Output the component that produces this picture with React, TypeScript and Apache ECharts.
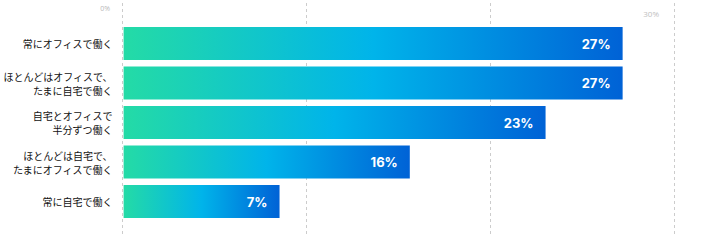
import React, { useEffect, useRef } from "react";
import * as echarts from "echarts";

const categories: string[] = [
  "常にオフィスで働く",
  "ほとんどはオフィスで、\nたまに自宅で働く",
  "自宅とオフィスで\n半分ずつ働く",
  "ほとんどは自宅で、\nたまにオフィスで働く",
  "常に自宅で働く",
];
const values: number[] = [27.2, 27.2, 23.0, 15.6, 8.5];
const valueLabels: string[] = ["27%", "27%", "23%", "16%", "7%"];
const axisMin = 0;
const axisMax = 30;
const axisInterval = 10;

export default function App() {
  const ref = useRef<HTMLDivElement>(null);
  useEffect(() => {
    document.body.style.margin = "0";
    if (!ref.current) return;
    const chart = echarts.init(ref.current, undefined, { renderer: "svg" });
    const gradient = new echarts.graphic.LinearGradient(0, 0, 1, 0, [
      { offset: 0, color: "#24DBA6" },
      { offset: 0.5, color: "#00B4EA" },
      { offset: 1, color: "#0062D6" },
    ]);
    chart.setOption({
      animation: false,
      grid: [
        { left: 122, right: 33, top: 3, bottom: 13 },
        { left: 122, right: 33, top: 23.75, height: 197.5 },
      ],
      xAxis: [
        {
          gridIndex: 0,
          type: "value",
          min: axisMin,
          max: axisMax,
          interval: axisInterval,
          position: "top",
          axisLine: { show: false },
          axisTick: { show: false },
          splitLine: {
            show: true,
            lineStyle: { color: "#cccccc", type: [3, 3], width: 1 },
          },
          axisLabel: {
            inside: true,
            margin: 2,
            align: "right",
            verticalAlign: "top",
            formatter: (v: number) =>
              v === axisMin ? "{a|" + v + "%}" : v === axisMax ? "{b|" + v + "%}" : "",
            rich: {
              a: {
                fontSize: 7,
                color: "#b8b8b8",
                fontFamily: "Open Sans",
                padding: [0, 12, 0, 0],
              },
              b: {
                fontSize: 8,
                color: "#c0c0c0",
                fontFamily: "Open Sans",
                padding: [4, 15, 0, 0],
              },
            },
          },
        },
        {
          gridIndex: 1,
          type: "value",
          min: axisMin,
          max: axisMax,
          interval: axisInterval,
          show: false,
          splitLine: { show: false },
        },
      ],
      yAxis: [
        {
          gridIndex: 0,
          type: "category",
          data: categories,
          show: false,
        },
        {
          gridIndex: 1,
          type: "category",
          data: categories,
          inverse: true,
          axisLine: { show: false },
          axisTick: { show: false },
          splitLine: { show: false },
          axisLabel: {
            margin: 11,
            fontSize: 10,
            lineHeight: 14,
            color: "#111111",
            fontFamily: "Noto Sans CJK JP",
            align: "right",
          },
        },
      ],
      series: [
        {
          type: "bar",
          xAxisIndex: 1,
          yAxisIndex: 1,
          data: values,
          barWidth: 33,
          itemStyle: { color: gradient },
          label: {
            show: true,
            position: "insideRight",
            distance: 12,
            color: "#ffffff",
            fontSize: 13,
            fontWeight: "bold",
            fontFamily: "Inter",
            formatter: (p: any) => valueLabels[p.dataIndex],
          },
        },
      ],
    });
    return () => chart.dispose();
  }, []);
  return <div ref={ref} style={{ width: 707, height: 248 }} />;
}
